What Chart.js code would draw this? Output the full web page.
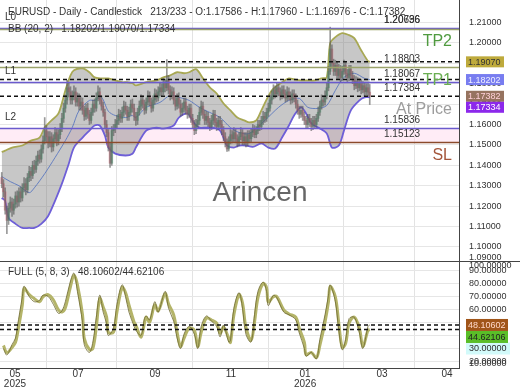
<!DOCTYPE html>
<html>
<head>
<meta charset="utf-8">
<script src="https://cdn.jsdelivr.net/npm/chart.js@4.4.1/dist/chart.umd.min.js"></script>
<style>
  html, body { margin: 0; padding: 0; background: #fff; }
  #grafico { display: block; }
</style>
</head>
<body>
<canvas id="grafico" width="520" height="390"></canvas>
<script>
const FUENTE = '"Liberation Sans", Arial, sans-serif';

// velas diarias EURUSD, barra 0 = fines de abril 2025, barra 214 = ultima
const opens = [
  1.1340,1.1310,1.1270,1.1180,1.1130,1.1190,1.1220,1.1180,1.1210,1.1250,
  1.1220,1.1270,1.1240,1.1290,1.1310,1.1280,1.1340,1.1370,1.1350,1.1400,
  1.1380,1.1420,1.1450,1.1430,1.1480,1.1520,1.1570,1.1540,1.1510,1.1540,
  1.1490,1.1530,1.1560,1.1520,1.1550,1.1580,1.1630,1.1680,1.1720,1.1780,
  1.1760,1.1720,1.1740,1.1760,1.1710,1.1730,1.1690,1.1710,1.1670,1.1640,
  1.1680,1.1650,1.1620,1.1660,1.1700,1.1680,1.1730,1.1760,1.1720,1.1690,
  1.1660,1.1600,1.1560,1.1490,1.1410,1.1570,1.1580,1.1600,1.1620,1.1650,
  1.1630,1.1660,1.1690,1.1670,1.1640,1.1660,1.1700,1.1680,1.1640,1.1620,
  1.1660,1.1690,1.1720,1.1700,1.1670,1.1710,1.1740,1.1710,1.1680,1.1720,
  1.1750,1.1730,1.1760,1.1780,1.1760,1.1800,1.1780,1.1820,1.1770,1.1740,
  1.1760,1.1720,1.1690,1.1730,1.1700,1.1660,1.1680,1.1710,1.1670,1.1650,
  1.1680,1.1630,1.1600,1.1570,1.1600,1.1620,1.1660,1.1690,1.1650,1.1620,
  1.1640,1.1610,1.1590,1.1620,1.1650,1.1610,1.1590,1.1620,1.1600,1.1570,
  1.1540,1.1510,1.1480,1.1520,1.1550,1.1530,1.1560,1.1530,1.1510,1.1540,
  1.1560,1.1520,1.1540,1.1510,1.1550,1.1530,1.1560,1.1580,1.1550,1.1570,
  1.1600,1.1590,1.1620,1.1640,1.1630,1.1660,1.1680,1.1720,1.1740,1.1770,
  1.1750,1.1780,1.1760,1.1740,1.1770,1.1750,1.1730,1.1760,1.1740,1.1720,
  1.1750,1.1730,1.1700,1.1670,1.1650,1.1670,1.1640,1.1620,1.1600,1.1630,
  1.1610,1.1590,1.1620,1.1600,1.1630,1.1660,1.1690,1.1720,1.1710,1.1740,
  1.1780,1.1860,1.1970,1.1900,1.1860,1.1890,1.1840,1.1870,1.1830,1.1860,
  1.1890,1.1850,1.1830,1.1870,1.1840,1.1820,1.1790,1.1810,1.1780,1.1800,
  1.1770,1.1790,1.1760,1.1780,1.17586
];
const highs = [
  1.1365,1.1330,1.1290,1.1200,1.1215,1.1245,1.1240,1.1235,1.1270,1.1275,
  1.1290,1.1295,1.1310,1.1340,1.1335,1.1360,1.1395,1.1390,1.1420,1.1425,
  1.1445,1.1470,1.1475,1.1500,1.1545,1.1634,1.1595,1.1565,1.1565,1.1560,
  1.1550,1.1585,1.1580,1.1575,1.1605,1.1655,1.1705,1.1745,1.1816,1.1805,
  1.1785,1.1765,1.1790,1.1780,1.1755,1.1750,1.1735,1.1730,1.1690,1.1700,
  1.1705,1.1670,1.1680,1.1720,1.1725,1.1755,1.1790,1.1780,1.1740,1.1710,
  1.1675,1.1620,1.1575,1.1510,1.1590,1.1600,1.1625,1.1645,1.1675,1.1670,
  1.1685,1.1715,1.1710,1.1690,1.1685,1.1720,1.1725,1.1700,1.1660,1.1680,
  1.1715,1.1745,1.1740,1.1720,1.1730,1.1765,1.1760,1.1730,1.1740,1.1775,
  1.1770,1.1785,1.1805,1.1800,1.1825,1.1820,1.1918,1.1840,1.1790,1.1785,
  1.1780,1.1740,1.1750,1.1755,1.1720,1.1705,1.1730,1.1730,1.1690,1.1700,
  1.1700,1.1650,1.1620,1.1625,1.1645,1.1685,1.1715,1.1710,1.1670,1.1665,
  1.1660,1.1630,1.1645,1.1670,1.1670,1.1630,1.1640,1.1640,1.1620,1.1590,
  1.1560,1.1530,1.1540,1.1575,1.1570,1.1585,1.1580,1.1550,1.1560,1.1585,
  1.1575,1.1560,1.1560,1.1570,1.1570,1.1580,1.1600,1.1595,1.1590,1.1620,
  1.1620,1.1640,1.1665,1.1660,1.1680,1.1705,1.1745,1.1765,1.1795,1.1790,
  1.1805,1.1800,1.1780,1.1790,1.1790,1.1770,1.1785,1.1780,1.1760,1.1770,
  1.1770,1.1750,1.1720,1.1690,1.1690,1.1690,1.1660,1.1640,1.1650,1.1650,
  1.1630,1.1640,1.1640,1.1650,1.1685,1.1715,1.1745,1.1740,1.1765,1.1805,
  1.1885,1.2077,1.1990,1.1920,1.1915,1.1910,1.1895,1.1890,1.1885,1.1915,
  1.1905,1.1870,1.1890,1.1890,1.1860,1.1840,1.1835,1.1830,1.1825,1.1820,
  1.1810,1.1805,1.1800,1.1800,1.17960
];
const lows = [
  1.1290,1.1245,1.1160,1.1065,1.1110,1.1170,1.1150,1.1160,1.1190,1.1195,
  1.1200,1.1220,1.1225,1.1270,1.1255,1.1265,1.1320,1.1325,1.1335,1.1360,
  1.1365,1.1400,1.1410,1.1415,1.1460,1.1505,1.1515,1.1485,1.1490,1.1465,
  1.1470,1.1510,1.1495,1.1500,1.1530,1.1565,1.1610,1.1660,1.1700,1.1735,
  1.1700,1.1700,1.1720,1.1690,1.1690,1.1670,1.1670,1.1650,1.1620,1.1625,
  1.1630,1.1600,1.1605,1.1645,1.1660,1.1665,1.1715,1.1700,1.1670,1.1640,
  1.1580,1.1540,1.1470,1.1390,1.1400,1.1545,1.1560,1.1580,1.1600,1.1610,
  1.1610,1.1640,1.1650,1.1620,1.1620,1.1645,1.1660,1.1620,1.1595,1.1600,
  1.1645,1.1670,1.1680,1.1650,1.1655,1.1695,1.1690,1.1660,1.1665,1.1700,
  1.1710,1.1715,1.1740,1.1740,1.1745,1.1760,1.1765,1.1750,1.1720,1.1725,
  1.1700,1.1670,1.1675,1.1680,1.1640,1.1645,1.1660,1.1650,1.1630,1.1635,
  1.1610,1.1580,1.1550,1.1555,1.1585,1.1600,1.1645,1.1630,1.1600,1.1600,
  1.1590,1.1570,1.1575,1.1600,1.1590,1.1570,1.1575,1.1580,1.1550,1.1520,
  1.1490,1.1468,1.1470,1.1505,1.1510,1.1515,1.1510,1.1490,1.1495,1.1525,
  1.1500,1.1500,1.1490,1.1495,1.1510,1.1515,1.1540,1.1535,1.1535,1.1555,
  1.1570,1.1575,1.1600,1.1610,1.1615,1.1640,1.1665,1.1700,1.1725,1.1730,
  1.1735,1.1740,1.1720,1.1725,1.1730,1.1710,1.1715,1.1720,1.1700,1.1705,
  1.1710,1.1680,1.1650,1.1630,1.1635,1.1620,1.1600,1.1580,1.1585,1.1590,
  1.1570,1.1575,1.1580,1.1585,1.1615,1.1645,1.1675,1.1690,1.1695,1.1725,
  1.1765,1.1845,1.1875,1.1840,1.1840,1.1820,1.1825,1.1810,1.1815,1.1845,
  1.1830,1.1810,1.1815,1.1820,1.1800,1.1770,1.1775,1.1760,1.1765,1.1750,
  1.1755,1.1740,1.1745,1.1740,1.16976
];
const closes = [
  1.1310,1.1270,1.1180,1.1130,1.1190,1.1220,1.1180,1.1210,1.1250,1.1220,
  1.1270,1.1240,1.1290,1.1310,1.1280,1.1340,1.1370,1.1350,1.1400,1.1380,
  1.1420,1.1450,1.1430,1.1480,1.1520,1.1570,1.1540,1.1510,1.1540,1.1490,
  1.1530,1.1560,1.1520,1.1550,1.1580,1.1630,1.1680,1.1720,1.1780,1.1760,
  1.1720,1.1740,1.1760,1.1710,1.1730,1.1690,1.1710,1.1670,1.1640,1.1680,
  1.1650,1.1620,1.1660,1.1700,1.1680,1.1730,1.1760,1.1720,1.1690,1.1660,
  1.1600,1.1560,1.1490,1.1410,1.1570,1.1580,1.1600,1.1620,1.1650,1.1630,
  1.1660,1.1690,1.1670,1.1640,1.1660,1.1700,1.1680,1.1640,1.1620,1.1660,
  1.1690,1.1720,1.1700,1.1670,1.1710,1.1740,1.1710,1.1680,1.1720,1.1750,
  1.1730,1.1760,1.1780,1.1760,1.1800,1.1780,1.1820,1.1770,1.1740,1.1760,
  1.1720,1.1690,1.1730,1.1700,1.1660,1.1680,1.1710,1.1670,1.1650,1.1680,
  1.1630,1.1600,1.1570,1.1600,1.1620,1.1660,1.1690,1.1650,1.1620,1.1640,
  1.1610,1.1590,1.1620,1.1650,1.1610,1.1590,1.1620,1.1600,1.1570,1.1540,
  1.1510,1.1480,1.1520,1.1550,1.1530,1.1560,1.1530,1.1510,1.1540,1.1560,
  1.1520,1.1540,1.1510,1.1550,1.1530,1.1560,1.1580,1.1550,1.1570,1.1600,
  1.1590,1.1620,1.1640,1.1630,1.1660,1.1680,1.1720,1.1740,1.1770,1.1750,
  1.1780,1.1760,1.1740,1.1770,1.1750,1.1730,1.1760,1.1740,1.1720,1.1750,
  1.1730,1.1700,1.1670,1.1650,1.1670,1.1640,1.1620,1.1600,1.1630,1.1610,
  1.1590,1.1620,1.1600,1.1630,1.1660,1.1690,1.1720,1.1710,1.1740,1.1780,
  1.1860,1.1970,1.1900,1.1860,1.1890,1.1840,1.1870,1.1830,1.1860,1.1890,
  1.1850,1.1830,1.1870,1.1840,1.1820,1.1790,1.1810,1.1780,1.1800,1.1770,
  1.1790,1.1760,1.1780,1.17586,1.17382
];

// bandas de bollinger (20, 2): barra -> valor
const bbUpperBars = [0,2,6,12,17,22,25,29,33,37,40,42,47,51,54,58,62,66,70,73,76,78,84,90,94,98,102,106,109,113,117,121,125,129,133,137,141,144,148,151,157,163,167,170,174,178,182,186,189,191,194,198,202,205,209,213,214];
const bbUpper = [1.1465,1.1472,1.1487,1.1497,1.1521,1.1536,1.1585,1.1620,1.1654,1.1767,1.1841,1.1866,1.1875,1.1856,1.1831,1.1826,1.1826,1.1816,1.1807,1.1807,1.1802,1.1792,1.1807,1.1816,1.1831,1.1841,1.1856,1.1851,1.1856,1.1871,1.1826,1.1782,1.1752,1.1703,1.1669,1.1634,1.1620,1.1610,1.1620,1.1669,1.1767,1.1807,1.1826,1.1821,1.1816,1.1816,1.1816,1.1826,1.1831,1.1998,1.2028,1.2048,1.2038,1.2023,1.1964,1.1910,1.19070];
const bbLowerBars = [0,2,4,8,12,16,19,23,27,31,35,39,42,47,51,54,57,60,62,66,72,76,78,84,90,94,100,103,108,110,112,115,119,123,127,131,135,138,142,146,151,155,159,163,167,170,174,177,180,184,189,192,196,199,203,208,211,214];
const bbLower = [1.1240,1.1226,1.1143,1.1113,1.1093,1.1093,1.1093,1.1113,1.1152,1.1226,1.1310,1.1408,1.1487,1.1536,1.1570,1.1595,1.1595,1.1546,1.1487,1.1457,1.1448,1.1457,1.1487,1.1570,1.1585,1.1580,1.1595,1.1634,1.1654,1.1634,1.1605,1.1585,1.1585,1.1585,1.1570,1.1497,1.1487,1.1497,1.1497,1.1490,1.1507,1.1487,1.1482,1.1536,1.1595,1.1644,1.1684,1.1654,1.1605,1.1585,1.1556,1.1487,1.1497,1.1570,1.1669,1.1718,1.1733,1.17334];
const bbMiddleBars = [0,5,10,16,19,25,31,37,41,45,51,54,58,62,66,72,76,78,84,92,98,103,109,115,121,127,133,138,144,153,161,167,173,178,184,189,194,199,205,211,214];
const bbMiddle = [1.1345,1.1320,1.1300,1.1266,1.1290,1.1359,1.1438,1.1521,1.1585,1.1669,1.1718,1.1718,1.1733,1.1665,1.1644,1.1634,1.1644,1.1634,1.1684,1.1708,1.1743,1.1733,1.1718,1.1684,1.1659,1.1634,1.1585,1.1561,1.1556,1.1620,1.1684,1.1718,1.1728,1.1684,1.1679,1.1693,1.1767,1.1831,1.1851,1.1826,1.18202];

// estocastico full (5, 8, 3)
const stochBars = [1,3,6,8,9,12,13,16,19,22,24,27,30,33,35,37,40,42,44,47,48,51,53,55,57,59,61,62,65,67,70,72,74,77,78,81,83,84,86,89,91,95,97,100,102,104,106,109,112,114,116,119,122,125,127,129,132,133,135,138,140,142,145,147,149,152,154,155,158,160,164,167,171,173,176,177,180,183,185,188,190,191,194,196,198,200,202,205,208,210,213,214];
const stochD = [32.3,26.9,30.8,34.7,40.2,63.6,76.1,71.4,68.3,65.9,69.8,71.4,67.5,59.7,58.1,61.3,77.7,86.3,79.2,55.8,37.8,29.2,30.0,46.4,68.3,62.0,54.2,42.5,42.5,58.1,76.9,73.0,63.6,50.3,48.0,38.6,49.5,54.2,50.3,63.6,58.9,72.2,64.4,55.8,42.5,31.6,37.8,45.6,44.1,31.6,42.5,53.4,51.9,49.5,41.7,46.4,37.8,34.7,55.8,71.4,65.2,46.4,36.3,50.3,69.1,80.0,76.9,65.9,69.8,69.8,59.7,56.6,54.2,45.6,34.7,25.3,26.9,23.0,32.3,50.3,65.9,77.7,69.8,49.5,30.8,33.9,49.5,54.2,45.6,31.6,44.1,44.62106];
const stochK = [30,25,33,38,46,70,78,70,66,67,71,70,64,57,59,66,82,88,74,50,33,27,35,54,71,58,49,40,46,64,79,70,58,47,44,40,53,55,52,66,58,74,61,51,38,30,41,47,41,30,47,55,51,47,39,48,35,36,61,73,61,41,35,56,74,81,74,63,71,69,58,56,52,42,30,24,27,22,37,56,71,79,66,44,29,37,53,54,42,30,47,48.10602];

// ejes
const monthTicks = [7.7, 44.4, 89.1, 133.3, 176.4, 221.1, 258.9];
const monthLabels = ['05', '07', '09', '11', '01', '03', '04'];
const yearLabels = ['2025', '', '', '', '2026', '', ''];
const priceTicks = [1.09, 1.10, 1.11, 1.12, 1.13, 1.14, 1.15, 1.16, 1.17, 1.18, 1.19, 1.20, 1.21];
const stochTicks = [10, 20, 30, 40, 50, 60, 70, 80, 90, 100];

// niveles dibujados
const levelPrices = [1.20736, 1.20696, 1.18803, 1.18067, 1.17384, 1.15836, 1.15123];
const levelLeftTags = ['L0', '', '', 'L1', '', 'L2', ''];
const levelRightTags = ['', 'TP2', 'TP1', '', 'At Price', '', 'SL'];
const lastIdx = closes.length - 1;
const dashedPrices = [bbUpper[bbUpper.length - 1], bbMiddle[bbMiddle.length - 1], closes[lastIdx]];
const priceMarks = [bbUpper[bbUpper.length - 1], bbMiddle[bbMiddle.length - 1], closes[lastIdx], bbLower[bbLower.length - 1]];
const stochMarks = [stochK[stochK.length - 1], stochD[stochD.length - 1]];

// estilos
const levelLineColors = ['#6a5acd', '#9ba36a', '#9ba36a', '#6a5acd', null, '#6a5acd', '#8b4a2b'];
const rightTagColors = { 'TP2': '#4f9a3f', 'TP1': '#6aae52', 'At Price': '#9c9c9c', 'SL': '#a4553a' };
const priceMarkStyle = [
  { bg: 'rgb(190,170,60)', fg: '#333' },
  { bg: 'rgb(120,125,240)', fg: '#eef' },
  { bg: 'rgb(150,115,95)', fg: '#ffd0d8' },
  { bg: 'rgb(140,40,235)', fg: '#fff' }
];
const stochMarkStyle = [
  { bg: 'rgb(160,85,25)', fg: '#ffd8c8' },
  { bg: 'rgb(90,190,40)', fg: '#222' }
];

function pts(bars, vals) {
  return bars.map((b, i) => ({ x: b, y: vals[i] }));
}

const plugExtra = {
  id: 'plugExtra',
  beforeDatasetsDraw(chart) {
    const { ctx, chartArea: ca, scales: { y } } = chart;
    ctx.save();
    // banda rosa entre L2 y SL
    const a = y.getPixelForValue(levelPrices[5]);
    const b = y.getPixelForValue(levelPrices[6]);
    ctx.fillStyle = 'rgba(255,212,234,0.45)';
    ctx.fillRect(ca.left, a, ca.right - ca.left, b - a);
    // marca de agua
    ctx.font = '28px ' + FUENTE;
    ctx.fillStyle = 'rgba(75,75,75,0.85)';
    ctx.textAlign = 'center';
    ctx.textBaseline = 'middle';
    ctx.fillText('Arincen', 260, 193);
    ctx.restore();
  },
  afterDatasetsDraw(chart) {
    const { ctx, chartArea: ca, scales: { y, y2 } } = chart;
    ctx.save();
    // lineas de nivel
    levelPrices.forEach((p, i) => {
      if (!levelLineColors[i]) return;
      const py = Math.round(y.getPixelForValue(p)) + 0.5;
      ctx.strokeStyle = levelLineColors[i];
      ctx.lineWidth = 1.5;
      ctx.beginPath(); ctx.moveTo(ca.left, py); ctx.lineTo(ca.right, py); ctx.stroke();
    });
    // lineas punteadas de valores actuales
    ctx.strokeStyle = '#111';
    ctx.lineWidth = 1.5;
    ctx.setLineDash([4, 3]);
    dashedPrices.forEach(p => {
      const py = y.getPixelForValue(p);
      ctx.beginPath(); ctx.moveTo(ca.left, py); ctx.lineTo(ca.right, py); ctx.stroke();
    });
    stochMarks.forEach(v => {
      const py = y2.getPixelForValue(v);
      ctx.beginPath(); ctx.moveTo(ca.left, py); ctx.lineTo(ca.right, py); ctx.stroke();
    });
    ctx.setLineDash([]);
    // textos de nivel
    levelPrices.forEach((p, i) => {
      const py = y.getPixelForValue(p);
      ctx.font = '10px ' + FUENTE;
      ctx.fillStyle = '#333';
      ctx.textAlign = 'left';
      ctx.textBaseline = 'bottom';
      ctx.fillText(p.toFixed(5), 384, py - 3);
      if (levelLeftTags[i]) ctx.fillText(levelLeftTags[i], 5, py - 6);
      const tag = levelRightTags[i];
      if (tag) {
        ctx.font = '16px ' + FUENTE;
        ctx.fillStyle = rightTagColors[tag];
        ctx.textAlign = 'right';
        ctx.textBaseline = 'top';
        ctx.fillText(tag, 452, py + 5);
      }
    });
    // encabezados
    ctx.font = '10px ' + FUENTE;
    ctx.fillStyle = '#333';
    ctx.textAlign = 'left';
    ctx.textBaseline = 'middle';
    const f = v => v.toFixed(5);
    ctx.fillText('EURUSD - Daily - Candlestick   213/233 - O:' + f(opens[lastIdx]) + ' - H:' + f(highs[lastIdx]) +
      ' - L:' + f(lows[lastIdx]) + ' - C:' + f(closes[lastIdx]), 8, 12.5);
    ctx.fillText('BB (20, 2)   ' + f(bbMiddle[bbMiddle.length - 1]) + '/' + f(bbUpper[bbUpper.length - 1]) + '/' +
      f(bbLower[bbLower.length - 1]), 8, 29);
    ctx.fillText('FULL (5, 8, 3)   ' + f(stochMarks[0]) + '/' + f(stochMarks[1]), 8, 272);
    ctx.restore();
  },
  afterDraw(chart) {
    const { ctx, chartArea: ca, scales: { y, y2 } } = chart;
    ctx.save();
    // separador entre paneles
    ctx.strokeStyle = '#444';
    ctx.lineWidth = 1;
    const sep = Math.round(y.bottom) + 0.5;
    ctx.beginPath(); ctx.moveTo(ca.left, sep); ctx.lineTo(chart.width, sep); ctx.stroke();

    ctx.font = '9px ' + FUENTE;
    ctx.textAlign = 'left';
    ctx.textBaseline = 'middle';
    // etiquetas de eje fuera de rango, pegadas al borde
    const clamped = (scale, list) => {
      list.forEach(v => {
        if (v >= scale.min && v <= scale.max) return;
        const py = v < scale.min ? scale.bottom - 4 : scale.top + 4;
        ctx.fillStyle = '#333';
        ctx.fillText(v.toFixed(5), 469, py);
      });
    };
    clamped(y, priceTicks);
    clamped(y2, stochTicks);

    // fondo celeste en 30
    const p30 = y2.getPixelForValue(30);
    ctx.fillStyle = 'rgba(205,250,250,0.9)';
    ctx.fillRect(466, p30 - 6, 44, 12);
    ctx.fillStyle = '#333';
    ctx.fillText((30).toFixed(5), 469, p30);

    // cajas de valores
    const boxes = (scale, marks, styles, w, h) => {
      let prev = -1e9;
      marks.map((v, i) => ({ v, i, py: scale.getPixelForValue(v) }))
        .sort((a, b) => a.py - b.py)
        .forEach(m => {
          let py = Math.max(m.py, prev + h);
          prev = py;
          ctx.fillStyle = styles[m.i].bg;
          ctx.fillRect(466, py - h / 2, w, h);
          ctx.fillStyle = styles[m.i].fg;
          ctx.fillText(m.v.toFixed(5), 468, py + 0.5);
        });
    };
    boxes(y, priceMarks, priceMarkStyle, 38, 11);
    boxes(y2, stochMarks, stochMarkStyle, 42, 12);
    ctx.restore();
  }
};

const ctx = document.querySelector('#grafico').getContext('2d');

const sinPadding = s => { s.paddingTop = 0; s.paddingBottom = 0; s.paddingLeft = 0; s.paddingRight = 0; };

new Chart(ctx, {
  type: 'line',
  data: {
    datasets: [
      {
        label: 'BB up',
        data: pts(bbUpperBars, bbUpper),
        borderColor: 'rgb(168,168,84)',
        borderWidth: 1.8,
        backgroundColor: 'rgba(115,115,115,0.4)',
        fill: '+1',
        tension: 0.3,
        pointRadius: 0,
        yAxisID: 'y',
        order: 10
      },
      {
        label: 'BB low',
        data: pts(bbLowerBars, bbLower),
        borderColor: 'rgb(110,95,215)',
        borderWidth: 1.8,
        fill: false,
        tension: 0.3,
        pointRadius: 0,
        yAxisID: 'y',
        order: 9
      },
      {
        label: 'BB mid',
        data: pts(bbMiddleBars, bbMiddle),
        borderColor: 'rgba(85,115,190,0.85)',
        borderWidth: 1,
        fill: false,
        tension: 0.3,
        pointRadius: 0,
        yAxisID: 'y',
        order: 8
      },
      {
        type: 'bar',
        label: 'cuerpos',
        data: closes.map((c, i) => ({ x: i, y: [opens[i], c] })),
        backgroundColor: c => closes[c.dataIndex] >= opens[c.dataIndex] ? 'rgba(80,165,120,0.6)' : 'rgba(220,110,125,0.6)',
        barThickness: 2,
        grouped: false,
        borderWidth: 0,
        yAxisID: 'y',
        order: 6
      },
      {
        type: 'bar',
        label: 'mechas',
        data: closes.map((c, i) => ({ x: i, y: [lows[i], highs[i]] })),
        backgroundColor: 'rgba(85,85,85,0.6)',
        barThickness: 1,
        grouped: false,
        borderWidth: 0,
        yAxisID: 'y',
        order: 5
      },
      {
        label: '%D',
        data: pts(stochBars, stochD),
        borderColor: 'rgb(180,180,105)',
        borderWidth: 3,
        fill: false,
        tension: 0.35,
        pointRadius: 0,
        yAxisID: 'y2',
        order: 3
      },
      {
        label: '%K',
        data: pts(stochBars, stochK),
        borderColor: 'rgba(115,110,55,0.85)',
        borderWidth: 1,
        fill: false,
        tension: 0.35,
        pointRadius: 0,
        yAxisID: 'y2',
        order: 2
      }
    ]
  },
  options: {
    responsive: false,
    animation: false,
    devicePixelRatio: 1,
    events: [],
    layout: { padding: 0 },
    plugins: { legend: { display: false }, tooltip: { enabled: false } },
    scales: {
      x: {
        type: 'linear',
        min: -1,
        max: 265.9,
        offset: false,
        afterBuildTicks: s => { s.ticks = monthTicks.map(v => ({ value: v })); },
        afterFit: s => { s.height = 22; sinPadding(s); },
        ticks: {
          autoSkip: false,
          maxRotation: 0,
          padding: 1,
          color: '#333',
          font: { family: FUENTE, size: 10, lineHeight: 1 },
          callback: (v, i) => yearLabels[i] ? [monthLabels[i], yearLabels[i]] : monthLabels[i]
        },
        grid: { color: '#e3e3e3', drawTicks: false },
        border: { color: '#444' }
      },
      y: {
        position: 'right',
        stack: 'paneles',
        stackWeight: 2.44,
        min: 1.0931,
        max: 1.2210,
        afterBuildTicks: s => { s.ticks = priceTicks.filter(v => v >= s.min && v <= s.max).map(v => ({ value: v })); },
        afterFit: s => { s.width = 61; sinPadding(s); },
        ticks: {
          autoSkip: false,
          padding: 10,
          color: '#333',
          font: { family: FUENTE, size: 9 },
          callback: v => v.toFixed(5)
        },
        grid: { color: '#e6e6e6', drawTicks: false },
        border: { color: '#444' }
      },
      y2: {
        position: 'right',
        stack: 'paneles',
        stackWeight: 1,
        min: 15,
        max: 97.3,
        afterBuildTicks: s => { s.ticks = stochTicks.filter(v => v >= s.min && v <= s.max).map(v => ({ value: v })); },
        afterFit: s => { s.width = 61; sinPadding(s); },
        ticks: {
          autoSkip: false,
          padding: 10,
          color: '#333',
          font: { family: FUENTE, size: 9 },
          callback: v => v.toFixed(5)
        },
        grid: { color: '#e6e6e6', drawTicks: false },
        border: { color: '#444' }
      }
    }
  },
  plugins: [plugExtra]
});
</script>
</body>
</html>
